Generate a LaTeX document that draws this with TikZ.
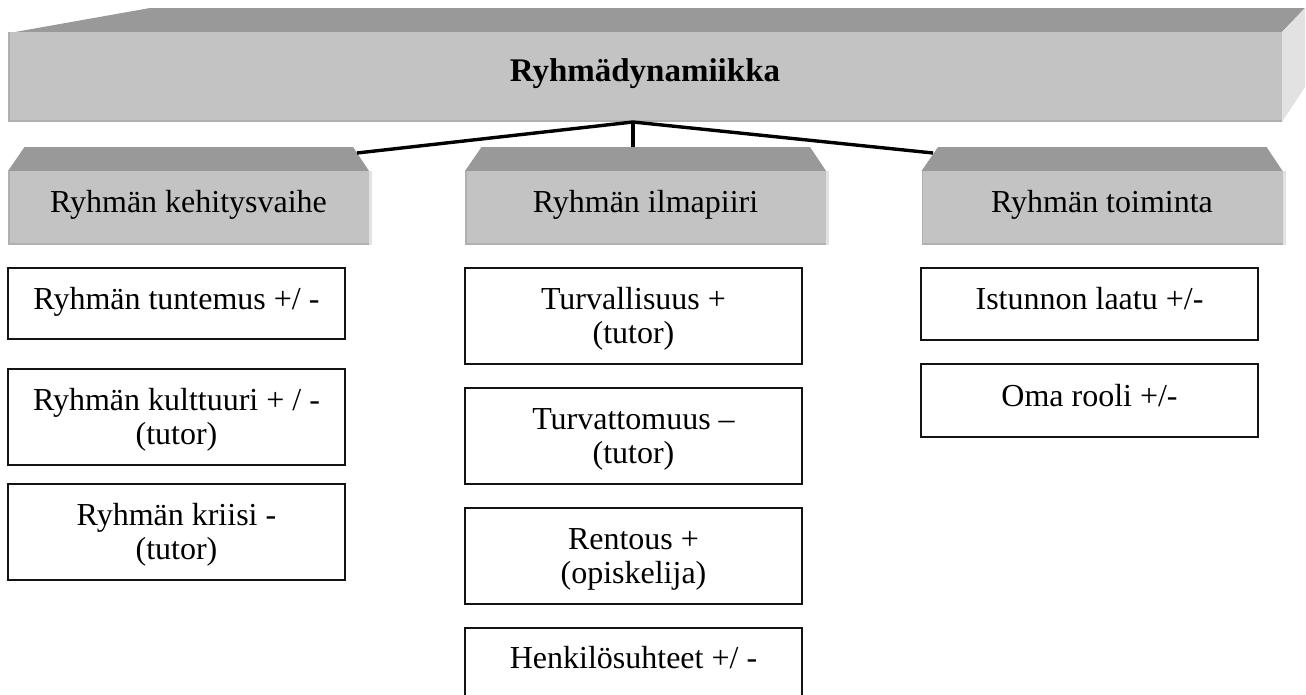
\documentclass[tikz,border=0pt]{standalone}
\usepackage{fontspec}
\setmainfont{Liberation Serif}
\definecolor{facegray}{HTML}{C3C3C3}
\definecolor{topgray}{HTML}{999999}
\definecolor{sidegray}{HTML}{E2E2E2}
\definecolor{rimgray}{HTML}{B0B0B0}
\definecolor{ink}{HTML}{141414}
% extra height for the first line of two-line boxes
\newcommand\upstrut{\rule{0pt}{28pt}}
\begin{document}
\begin{tikzpicture}[x=1pt,y=-1pt,
  every node/.style={font=\fontsize{32}{34}\selectfont, inner sep=0pt, text=black},
  frontface/.style={fill=facegray, minimum height=74pt, minimum width=361pt,
    text height=22pt, text depth=14pt},
  topface/.style={fill=topgray},
  sideface/.style={fill=sidegray},
  rim/.style={fill=rimgray},
  link/.style={draw=black, line width=3.4pt},
  itembox/.style={draw=ink, line width=2pt, fill=white, minimum width=337pt,
    align=center, anchor=north},
  oneline/.style={itembox, text height=22pt, text depth=11pt},
  twoline/.style={itembox, minimum height=96pt}]
\useasboundingbox (0,0) rectangle (1306,694);
\clip (0,0) rectangle (1306,694);

% main title block
\fill[topface] (15,32) -- (150,8) -- (1305,8) -- (1282,32) -- cycle;
\fill[sideface] (1282,32) -- (1305,8) -- (1305,87) -- (1282,122) -- cycle;
\node[fill=facegray, minimum width=1274pt, minimum height=90pt,
  text height=22pt, text depth=14pt, font=\fontsize{33}{34}\selectfont\bfseries]
  (root) at (645,77) {Ryhmädynamiikka};
\fill[rim] (8,120) rectangle (1282,122);
\fill[rim] (8,32) rectangle (10,122);

% category blocks
\foreach \cx/\name/\label in {188.5/kv/Ryhmän kehitysvaihe,
                              645.5/ip/Ryhmän ilmapiiri,
                              1102/tm/Ryhmän toiminta}{
  \fill[topface] (\cx-180.5,171) -- (\cx-164,147) -- (\cx+164.5,147) -- (\cx+180.5,171) -- cycle;
  \fill[sideface] (\cx+180.5,171) rectangle (\cx+183.5,245);
  \node[frontface] (\name) at (\cx,208) {\label};
  \fill[rim] (\cx-180.5,243) rectangle (\cx+180.5,245);
  \fill[rim] (\cx-180.5,171) rectangle (\cx-179,245);
}

% connectors
\coordinate (hub) at (633,122);
\coordinate (kvend) at (357,153);
\coordinate (ipend) at (633,147);
\coordinate (tmend) at (933,153);
\draw[link] (kvend) -- (hub) -- (tmend);
\draw[link] (hub) -- (ipend);

% left column
\node[oneline, minimum height=71pt] (l1) at (176.5,267) {Ryhmän tuntemus +/ -};
\node[twoline] (l2) at (176.5,368) {\upstrut Ryhmän kulttuuri + / -\\(tutor)};
\node[twoline] (l3) at (176.5,483) {\upstrut Ryhmän kriisi -\\(tutor)};

% middle column
\node[twoline] (m1) at (633.5,267) {\upstrut Turvallisuus +\\(tutor)};
\node[twoline] (m2) at (633.5,387) {\upstrut Turvattomuus –\\(tutor)};
\node[twoline] (m3) at (633.5,507) {\upstrut Rentous +\\(opiskelija)};
\node[oneline, minimum height=96pt, text height=22pt, text depth=38pt] (m4) at (633.5,627) {Henkilösuhteet +/ -};

% right column
\node[oneline, minimum height=72pt] (r1) at (1089.5,267) {Istunnon laatu +/-};
\node[oneline, minimum height=73pt] (r2) at (1089.5,363) {Oma rooli +/-};
\end{tikzpicture}
\end{document}
